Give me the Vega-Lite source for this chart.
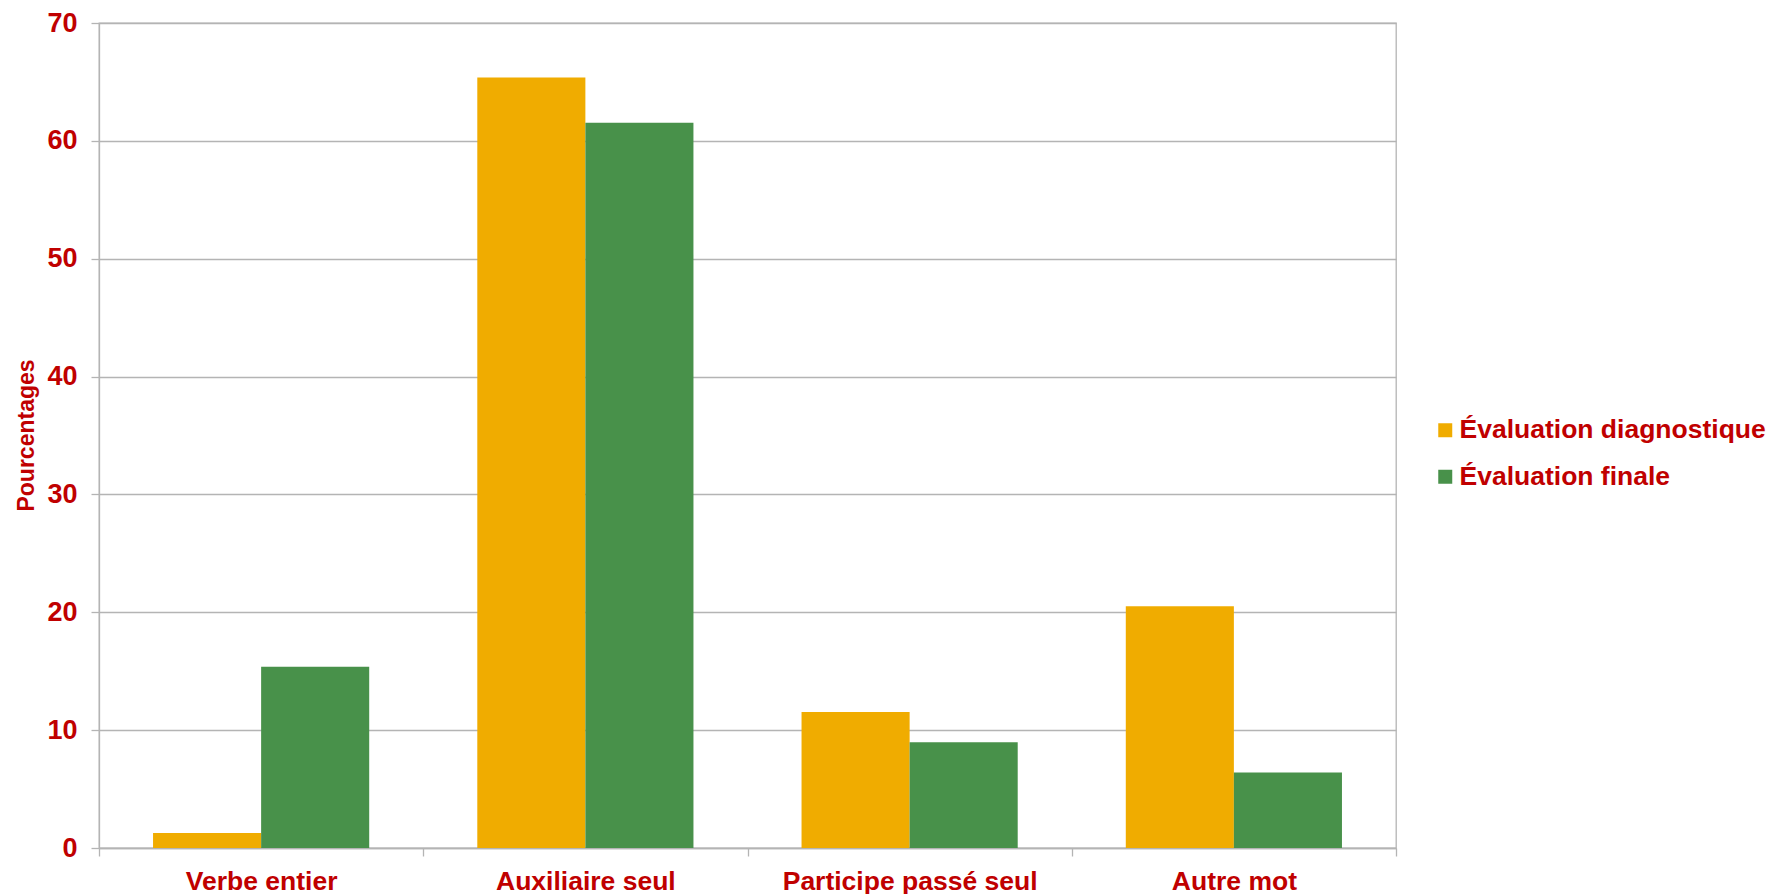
{
  "$schema": "https://vega.github.io/schema/vega-lite/v6.json",
  "autosize": {"type": "none"},
  "padding": {"left": 99, "top": 23, "right": 374, "bottom": 46},
  "width": 1297,
  "height": 825,
  "background": "white",
  "data": {
    "values": [
      {"categorie": "Verbe entier", "evaluation": "Évaluation diagnostique", "pourcentage": 1.28},
      {"categorie": "Verbe entier", "evaluation": "Évaluation finale", "pourcentage": 15.38},
      {"categorie": "Auxiliaire seul", "evaluation": "Évaluation diagnostique", "pourcentage": 65.38},
      {"categorie": "Auxiliaire seul", "evaluation": "Évaluation finale", "pourcentage": 61.54},
      {"categorie": "Participe passé seul", "evaluation": "Évaluation diagnostique", "pourcentage": 11.54},
      {"categorie": "Participe passé seul", "evaluation": "Évaluation finale", "pourcentage": 8.97},
      {"categorie": "Autre mot", "evaluation": "Évaluation diagnostique", "pourcentage": 20.51},
      {"categorie": "Autre mot", "evaluation": "Évaluation finale", "pourcentage": 6.41}
    ]
  },
  "mark": {"type": "bar"},
  "encoding": {
    "x": {
      "field": "categorie",
      "type": "nominal",
      "sort": ["Verbe entier", "Auxiliaire seul", "Participe passé seul", "Autre mot"],
      "scale": {"paddingInner": 0, "paddingOuter": 0},
      "axis": {
        "title": null,
        "labelAngle": 0,
        "tickBand": "extent",
        "tickSize": 8,
        "labelPadding": 12,
        "labelFontSize": 26.5,
        "labelLimit": 500
      }
    },
    "xOffset": {
      "field": "evaluation",
      "type": "nominal",
      "sort": ["Évaluation diagnostique", "Évaluation finale"],
      "scale": {"paddingInner": 0, "paddingOuter": 0.5}
    },
    "y": {
      "field": "pourcentage",
      "type": "quantitative",
      "scale": {"domain": [0, 70], "nice": false},
      "axis": {
        "title": "Pourcentages",
        "values": [0, 10, 20, 30, 40, 50, 60, 70],
        "tickSize": 8,
        "labelPadding": 14,
        "labelFontSize": 27,
        "titleFontSize": 23,
        "titleBaseline": "middle",
        "titleX": -73,
        "titleY": 412
      }
    },
    "color": {
      "field": "evaluation",
      "type": "nominal",
      "sort": ["Évaluation diagnostique", "Évaluation finale"],
      "scale": {"range": ["#f0ac00", "#48914a"]},
      "legend": {
        "title": null,
        "orient": "none",
        "legendX": 1333,
        "legendY": 394,
        "symbolType": "square",
        "symbolSize": 196,
        "symbolStrokeWidth": 0,
        "labelFontSize": 26.5,
        "labelOffset": 1,
        "rowPadding": 19.5
      }
    }
  },
  "config": {
    "font": "Liberation Sans",
    "view": {"stroke": "#b4b4b4", "strokeWidth": 1.3},
    "axis": {
      "domainColor": "#b4b4b4",
      "domainWidth": 1.3,
      "tickColor": "#b4b4b4",
      "tickWidth": 1.3,
      "gridColor": "#b4b4b4",
      "gridWidth": 1.3,
      "labelColor": "#c00000",
      "labelFont": "Liberation Sans",
      "labelFontWeight": "bold",
      "titleColor": "#c00000",
      "titleFont": "Liberation Sans",
      "titleFontWeight": "bold"
    },
    "axisX": {"grid": false},
    "axisY": {"grid": true},
    "legend": {
      "labelColor": "#c00000",
      "labelFont": "Liberation Sans",
      "labelFontWeight": "bold",
      "labelLimit": 0
    }
  }
}
